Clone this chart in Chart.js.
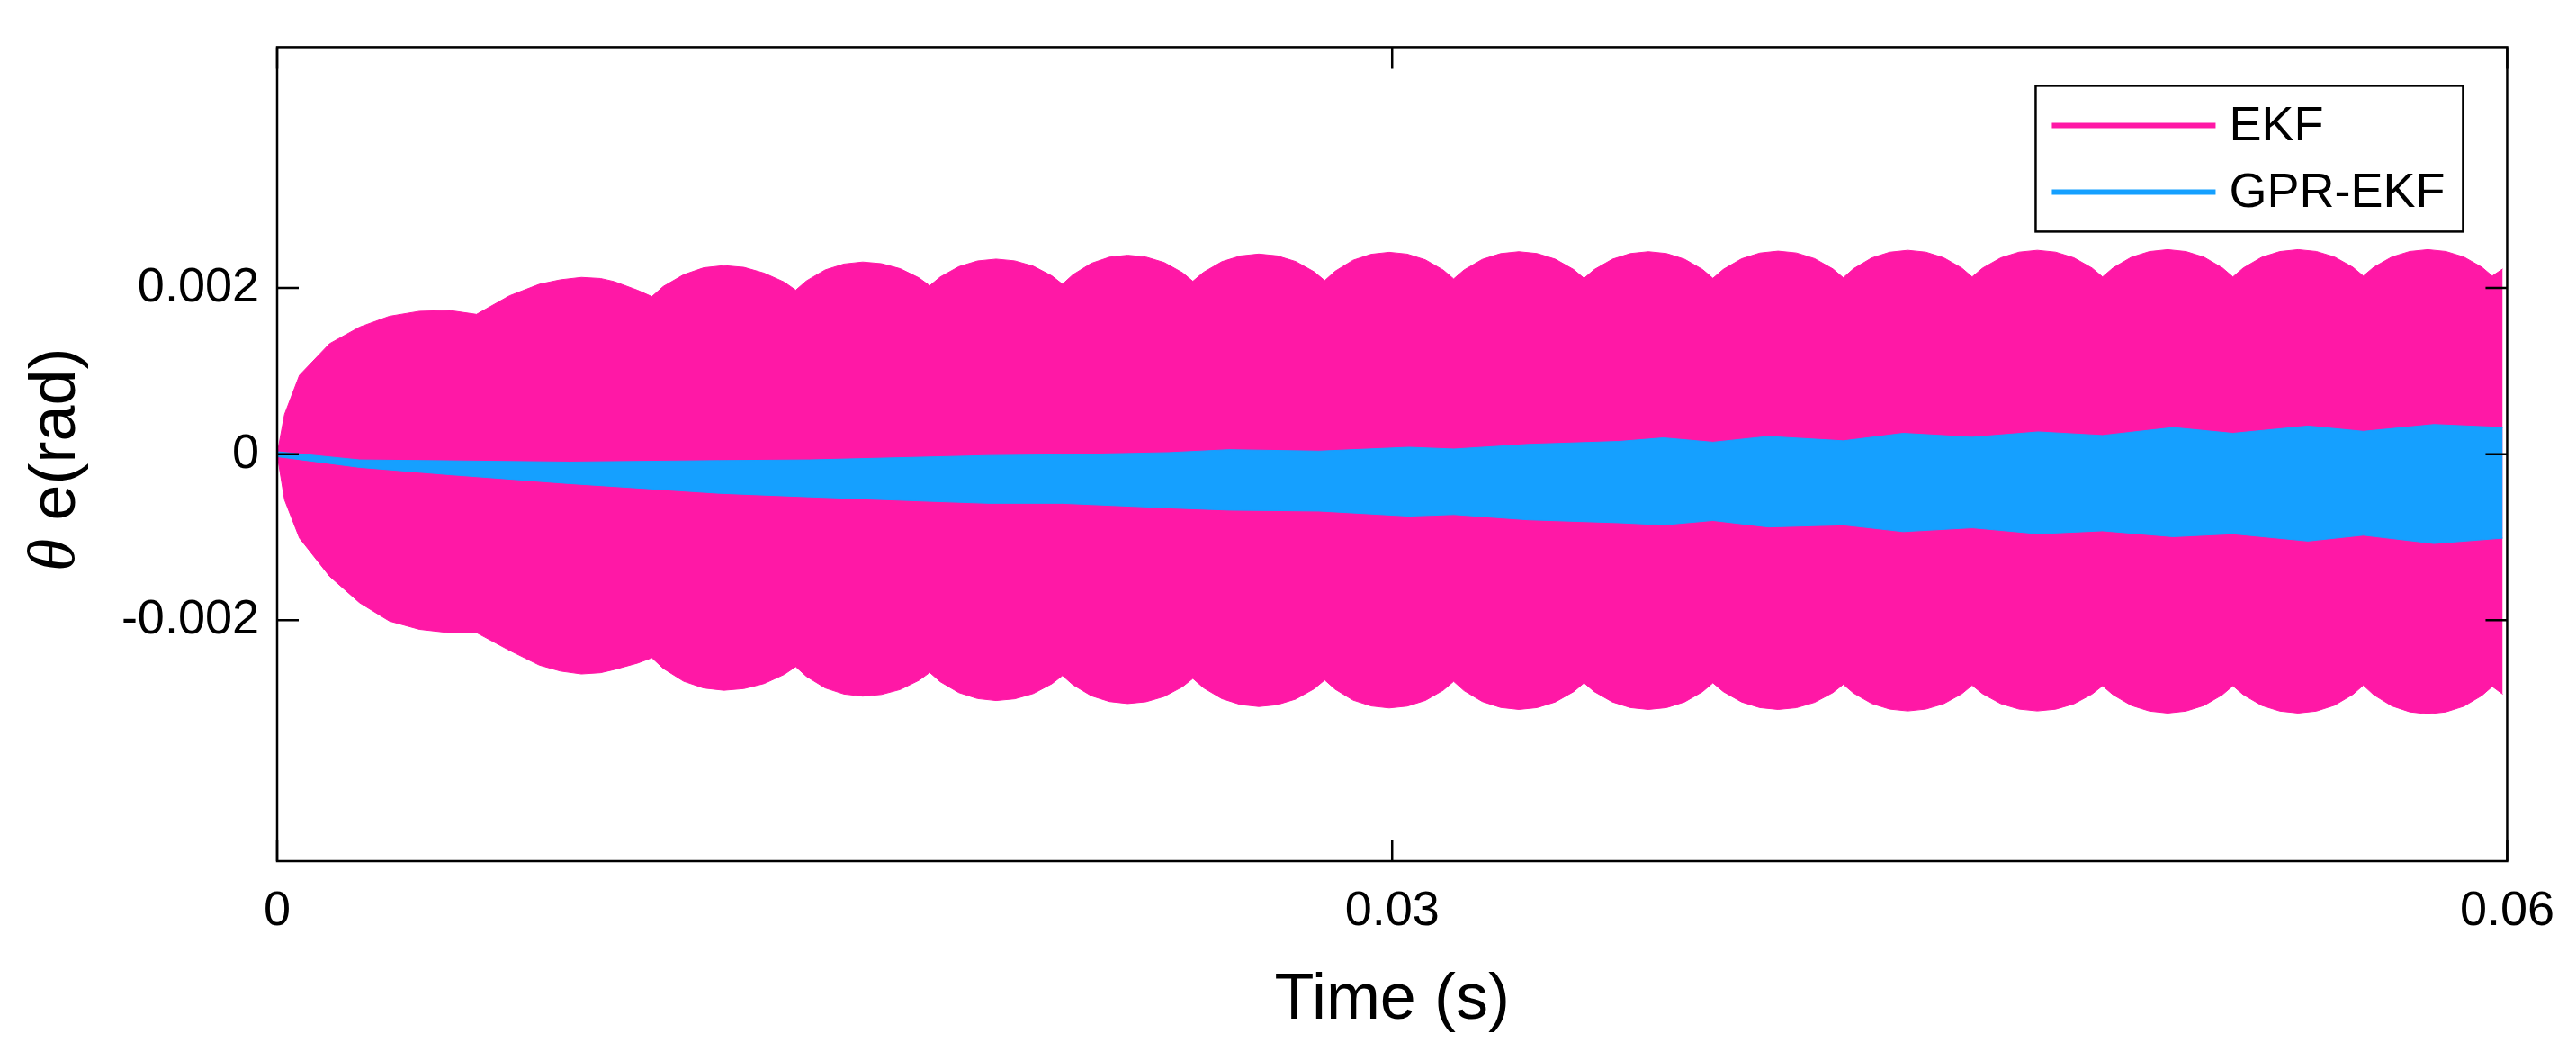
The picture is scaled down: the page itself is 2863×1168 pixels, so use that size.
<!DOCTYPE html>
<html>
<head>
<meta charset="utf-8">
<script src="https://cdn.jsdelivr.net/npm/chart.js@4.4.1/dist/chart.umd.min.js"></script>
<style>
  html, body { margin: 0; padding: 0; background: #fff; }
</style>
</head>
<body>
<canvas id="chart" width="2863" height="1168"></canvas>
<script>
// envelope of the EKF error (s, rad), one row per scallop
const ekfTime = [0, 0.0002, 0.0006, 0.00141, 0.00222, 0.00302, 0.00383, 0.00464, 0.005364,
  0.006252, 0.007057, 0.00762, 0.008187, 0.0087, 0.009066, 0.0097, 0.010082,
  0.010392, 0.010934, 0.011476, 0.012018, 0.012559, 0.013101, 0.013643, 0.013953,
  0.014241, 0.014746, 0.015251, 0.015756, 0.01626, 0.016765, 0.01727, 0.017558,
  0.017844, 0.018344, 0.018844, 0.019345, 0.019845, 0.020345, 0.020845, 0.021131,
  0.021412, 0.021903, 0.022394, 0.022885, 0.023376, 0.023867, 0.024358, 0.024639,
  0.024923, 0.025419, 0.025916, 0.026413, 0.026909, 0.027406, 0.027902, 0.028186,
  0.028464, 0.028949, 0.029435, 0.029921, 0.030406, 0.030892, 0.031377, 0.031655,
  0.031936, 0.032427, 0.032918, 0.03341, 0.033901, 0.034392, 0.034883, 0.035164,
  0.035441, 0.035927, 0.036412, 0.036897, 0.037382, 0.037867, 0.038353, 0.03863,
  0.038911, 0.039402, 0.039893, 0.040385, 0.040876, 0.041367, 0.041858, 0.042139,
  0.042416, 0.042902, 0.043387, 0.043873, 0.044358, 0.044843, 0.045329, 0.045606,
  0.045887, 0.046378, 0.046869, 0.04736, 0.047851, 0.048342, 0.048833, 0.049114,
  0.049395, 0.049886, 0.050377, 0.050868, 0.051359, 0.05185, 0.052341, 0.052622,
  0.052903, 0.053394, 0.053885, 0.054377, 0.054868, 0.055359, 0.05585, 0.056131,
  0.056409, 0.056894, 0.05738, 0.057866, 0.058351, 0.058837, 0.059322, 0.0596,
  0.05988];
const ekfUpper = [0, 0.00048, 0.00095, 0.00133, 0.00153, 0.00166, 0.00172, 0.00173, 0.001683,
  0.001907, 0.002046, 0.002099, 0.002128, 0.002115, 0.002078, 0.001973, 0.001897,
  0.00202, 0.00216, 0.002244, 0.00227, 0.002249, 0.00218, 0.002072, 0.001974,
  0.002086, 0.002218, 0.002289, 0.002313, 0.002293, 0.002233, 0.002122, 0.002028,
  0.002134, 0.002258, 0.002326, 0.002348, 0.002327, 0.002263, 0.002146, 0.002046,
  0.002161, 0.002297, 0.002371, 0.002395, 0.002373, 0.002307, 0.002185, 0.002081,
  0.002189, 0.002317, 0.002386, 0.002409, 0.002387, 0.002319, 0.002195, 0.002089,
  0.002202, 0.002335, 0.002406, 0.00243, 0.002408, 0.00234, 0.002216, 0.00211,
  0.002218, 0.002345, 0.002414, 0.002437, 0.002415, 0.002347, 0.002223, 0.002117,
  0.002223, 0.002347, 0.002415, 0.002437, 0.002415, 0.002347, 0.002223, 0.002117,
  0.002225, 0.002352, 0.002421, 0.002444, 0.002422, 0.002354, 0.00223, 0.002124,
  0.002233, 0.002362, 0.002431, 0.002454, 0.002432, 0.002364, 0.00224, 0.002134,
  0.00224, 0.002364, 0.002432, 0.002454, 0.002432, 0.002364, 0.00224, 0.002134,
  0.002242, 0.00237, 0.002439, 0.002462, 0.002439, 0.00237, 0.002242, 0.002134,
  0.002242, 0.00237, 0.002439, 0.002462, 0.00244, 0.002373, 0.00225, 0.002145,
  0.00225, 0.002373, 0.00244, 0.002462, 0.00244, 0.002373, 0.00225, 0.002145,
  0.00223];
const ekfLower = [0, -0.00055, -0.00101, -0.00147, -0.00179, -0.00201, -0.00211, -0.00215, -0.002149,
  -0.002363, -0.002541, -0.002612, -0.002647, -0.002632, -0.002594, -0.002516, -0.002452,
  -0.002581, -0.002734, -0.002816, -0.002843, -0.002823, -0.002763, -0.002653, -0.002559,
  -0.002676, -0.002815, -0.002889, -0.002914, -0.002894, -0.002834, -0.002723, -0.002629,
  -0.002741, -0.002872, -0.002943, -0.002967, -0.002946, -0.002883, -0.002765, -0.002666,
  -0.002777, -0.002909, -0.002979, -0.003003, -0.002982, -0.002918, -0.002801, -0.002701,
  -0.002813, -0.002944, -0.003015, -0.003039, -0.003017, -0.002949, -0.002825, -0.002719,
  -0.00283, -0.002962, -0.003032, -0.003056, -0.003034, -0.002966, -0.002842, -0.002736,
  -0.002848, -0.002979, -0.00305, -0.003074, -0.003052, -0.002984, -0.00286, -0.002754,
  -0.00286, -0.002984, -0.003052, -0.003074, -0.003052, -0.002984, -0.00286, -0.002754,
  -0.00286, -0.002984, -0.003052, -0.003074, -0.003053, -0.002989, -0.002872, -0.002772,
  -0.002878, -0.003002, -0.00307, -0.003092, -0.00307, -0.003005, -0.002885, -0.002783,
  -0.002885, -0.003005, -0.00307, -0.003092, -0.003071, -0.003007, -0.002889, -0.002789,
  -0.002897, -0.003025, -0.003094, -0.003117, -0.003094, -0.003025, -0.002897, -0.002789,
  -0.002897, -0.003025, -0.003094, -0.003117, -0.003094, -0.003023, -0.002893, -0.002783,
  -0.002897, -0.003031, -0.003103, -0.003127, -0.003104, -0.003035, -0.002906, -0.002797,
  -0.00289];

// envelope of the GPR-EKF error (s, rad)
const gprTime = [0, 0.00222, 0.00464, 0.00786, 0.0119, 0.01432, 0.01753, 0.01915, 0.02113, 0.02399,
  0.02561, 0.02803, 0.03045, 0.03166, 0.03367, 0.03609, 0.0373, 0.03863, 0.04012, 0.04214,
  0.04375, 0.04561, 0.04738, 0.04911, 0.05101, 0.05262, 0.05464, 0.05613, 0.05803, 0.05988];
const gprUpper = [0.00003, -0.000069, -0.00008, -0.000095, -0.000077, -0.000069, -0.000034, -0.000016, -0.000007, 0.000019,
  0.000054, 0.000037, 0.000083, 0.000062, 0.000118, 0.000153, 0.000197, 0.000144, 0.000214, 0.000161,
  0.000251, 0.000204, 0.000268, 0.000225, 0.000321, 0.000251, 0.000339, 0.000275, 0.000357, 0.000321];
const gprLower = [-0.00003, -0.000159, -0.000247, -0.000354, -0.000471, -0.000514, -0.000567, -0.000592, -0.000592, -0.000647,
  -0.000674, -0.000685, -0.000746, -0.000727, -0.000791, -0.000826, -0.000852, -0.000799, -0.000877, -0.000852,
  -0.000933, -0.000887, -0.000959, -0.000923, -0.000994, -0.000959, -0.001047, -0.000976, -0.001076, -0.001012];

const xTicks = [0, 0.03, 0.06];
const xTickLabels = ['0', '0.03', '0.06'];
const yTicks = [-0.002, 0, 0.002];
const yTickLabels = ['-0.002', '0', '0.002'];
const seriesNames = ['EKF', 'GPR-EKF'];
const seriesColors = ['#FF18A6', '#15A0FF'];

const FONT = 'Arial, "Liberation Sans", Helvetica, sans-serif';
Chart.defaults.font.family = FONT;
Chart.defaults.color = '#000';

const points = (ts, vs) => ts.map((t, i) => ({x: t, y: vs[i]}));

const band = (ts, lo, hi, color, order) => [
    {
        data: points(ts, hi),
        borderColor: color,
        borderWidth: 1,
        pointRadius: 0,
        fill: false,
        order,
    },
    {
        data: points(ts, lo),
        borderColor: color,
        borderWidth: 1,
        backgroundColor: color,
        pointRadius: 0,
        fill: '-1',
        order,
    },
];

// box, inward ticks, y title with italic theta, boxed legend
const frame = {
    id: 'frame',
    afterDraw(chart) {
        const {ctx, chartArea: a, scales: {x, y}} = chart;
        const tick = 24;
        ctx.save();
        ctx.strokeStyle = '#000';
        ctx.lineWidth = 2.5;
        ctx.strokeRect(a.left, a.top, a.right - a.left, a.bottom - a.top);
        ctx.beginPath();
        xTicks.forEach(v => {
            const px = x.getPixelForValue(v);
            ctx.moveTo(px, a.bottom); ctx.lineTo(px, a.bottom - tick);
            ctx.moveTo(px, a.top); ctx.lineTo(px, a.top + tick);
        });
        yTicks.forEach(v => {
            const py = y.getPixelForValue(v);
            ctx.moveTo(a.left, py); ctx.lineTo(a.left + tick, py);
            ctx.moveTo(a.right, py); ctx.lineTo(a.right - tick, py);
        });
        ctx.stroke();

        // y axis title
        ctx.save();
        ctx.translate(63, (a.top + a.bottom) / 2 + 6);
        ctx.rotate(-Math.PI / 2);
        ctx.textBaseline = 'middle';
        ctx.textAlign = 'left';
        const thetaFont = 'italic 74px "Liberation Serif", "DejaVu Serif", serif';
        const restFont = '72px ' + FONT;
        ctx.font = thetaFont;
        const wTheta = ctx.measureText('θ').width;
        ctx.font = restFont;
        const rest = ' e(rad)';
        const wRest = ctx.measureText(rest).width;
        const x0 = -(wTheta + wRest) / 2;
        ctx.fillStyle = '#000';
        ctx.font = thetaFont;
        ctx.fillText('θ', x0, 0);
        ctx.font = restFont;
        ctx.fillText(rest, x0 + wTheta, 0);
        ctx.restore();

        // legend
        const bx = a.right - 49 - 475, by = a.top + 43, bw = 475, bh = 162;
        ctx.fillStyle = '#fff';
        ctx.fillRect(bx, by, bw, bh);
        ctx.lineWidth = 2.5;
        ctx.strokeRect(bx, by, bw, bh);
        ctx.font = '54px ' + FONT;
        ctx.textBaseline = 'middle';
        ctx.textAlign = 'left';
        seriesNames.forEach((name, i) => {
            const ly = by + 44 + i * 74;
            ctx.strokeStyle = seriesColors[i];
            ctx.lineWidth = 6;
            ctx.beginPath();
            ctx.moveTo(bx + 18, ly);
            ctx.lineTo(bx + 200, ly);
            ctx.stroke();
            ctx.fillStyle = '#000';
            ctx.fillText(name, bx + 215, ly + 2);
        });
        ctx.restore();
    }
};

new Chart(document.getElementById('chart').getContext('2d'), {
    type: 'line',
    data: {
        datasets: [
            ...band(ekfTime, ekfLower, ekfUpper, seriesColors[0], 1),
            ...band(gprTime, gprLower, gprUpper, seriesColors[1], 0),
        ],
    },
    options: {
        responsive: false,
        animation: false,
        layout: { padding: { left: 0, top: 39, right: 75, bottom: 0 } },
        scales: {
            x: {
                type: 'linear',
                min: 0,
                max: 0.06,
                afterBuildTicks: axis => { axis.ticks = xTicks.map(v => ({value: v})); },
                afterFit: axis => { axis.height = 211; },
                grid: { display: false, drawTicks: false },
                border: { display: false },
                ticks: {
                    padding: 24,
                    maxRotation: 0,
                    autoSkip: false,
                    font: { size: 54 },
                    callback: (v, i) => xTickLabels[i],
                },
                title: {
                    display: true,
                    text: 'Time (s)',
                    font: { size: 72 },
                    padding: { top: 0, bottom: 13 },
                },
            },
            y: {
                type: 'linear',
                min: -0.0049,
                max: 0.0049,
                afterBuildTicks: axis => { axis.ticks = yTicks.map(v => ({value: v})); },
                afterFit: axis => { axis.width = 308; },
                grid: { display: false, drawTicks: false },
                border: { display: false },
                ticks: {
                    padding: 20,
                    autoSkip: false,
                    font: { size: 54 },
                    callback: (v, i) => yTickLabels[i],
                },
            },
        },
        plugins: {
            legend: { display: false },
            tooltip: { enabled: false },
        },
    },
    plugins: [frame],
});
</script>
</body>
</html>
